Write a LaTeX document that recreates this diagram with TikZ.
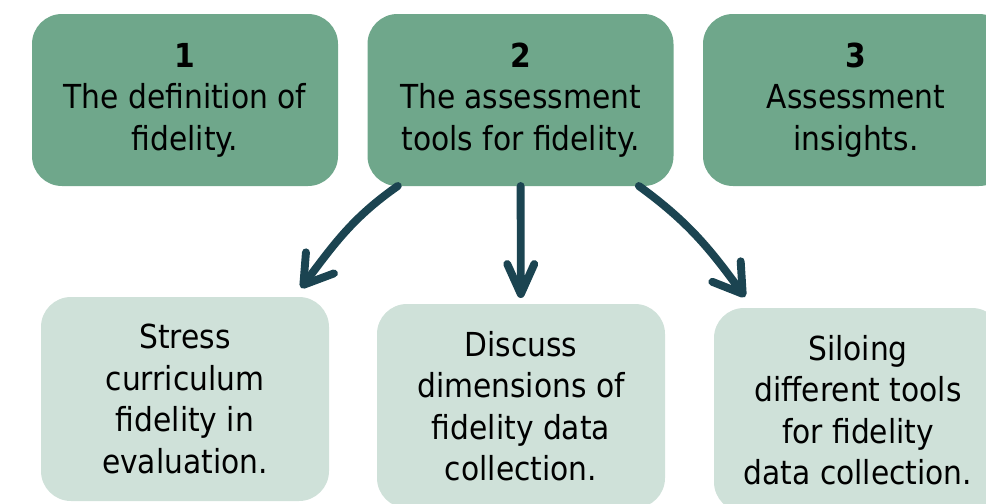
\documentclass[tikz,border=0pt]{standalone}
\usepackage{fontspec}
\setmainfont{DejaVu Sans Condensed}
\usepackage{tikz}
\usepackage{tkz-graph}
\usetikzlibrary{arrows.meta}

\definecolor{topgreen}{HTML}{6FA78B}
\definecolor{palegreen}{HTML}{CFE1D9}
\definecolor{arrowteal}{HTML}{1B4451}

\begin{document}
\begin{tikzpicture}
        \useasboundingbox (0,0) rectangle (19.72,10.06);
        \clip (0,0) rectangle (19.72,10.06);
        \GraphInit[vstyle=Normal]
        \tikzset{VertexStyle/.style={rectangle, rounded corners=0.6cm, fill=topgreen,
            minimum width=6.12cm, minimum height=3.44cm, align=center, inner sep=0pt,
            font=\fontsize{18.8}{23.6}\selectfont}}
        % the three headings
        \Vertex[x=3.70, y=8.06, L={\textbf{1}\\The definition of\\fidelity.}]{A}
        \Vertex[x=10.41, y=8.06, L={\textbf{2}\\The assessment\\tools for fidelity.}]{B}
        \Vertex[x=17.12, y=8.06, L={\textbf{3}\\Assessment\\insights.}]{C}
        % what comes out of heading 2
        \tikzset{VertexStyle/.append style={fill=palegreen,
            minimum width=5.76cm, minimum height=4.08cm}}
        \Vertex[x=3.70, y=2.08, L={Stress\\curriculum\\fidelity in\\evaluation.}]{D}
        \Vertex[x=10.42, y=1.94, L={Discuss\\dimensions of\\fidelity data\\collection.}]{E}
        \Vertex[x=17.16, y=1.86, L={Siloing\\different tools\\for fidelity\\data collection.}]{F}
        \coordinate (d) at ([xshift=-0.56cm, yshift=0.18cm]D.north east);
        \coordinate (f) at ([xshift=0.62cm, yshift=0.22cm]F.north west);
        \tikzset{EdgeStyle/.style={out=215, in=53, color=arrowteal, line width=4.5pt,
            line cap=round,
            -{Straight Barb[length=0.55cm, width=0.7cm, line cap=round, line join=round]}}}
        \Edge(B)(d)
        \tikzstyle{EdgeStyle}=[color=arrowteal, line width=4.5pt, line cap=round,
            shorten >=0.12cm,
            -{Straight Barb[length=0.6cm, width=0.54cm, line cap=round, line join=round]}]
        \Edge(B)(E)
        \tikzstyle{EdgeStyle}=[out=-36, in=126, color=arrowteal, line width=4.5pt,
            line cap=round,
            -{Straight Barb[length=0.55cm, width=0.7cm, line cap=round, line join=round]}]
        \Edge(B)(f)
\end{tikzpicture}
\end{document}
